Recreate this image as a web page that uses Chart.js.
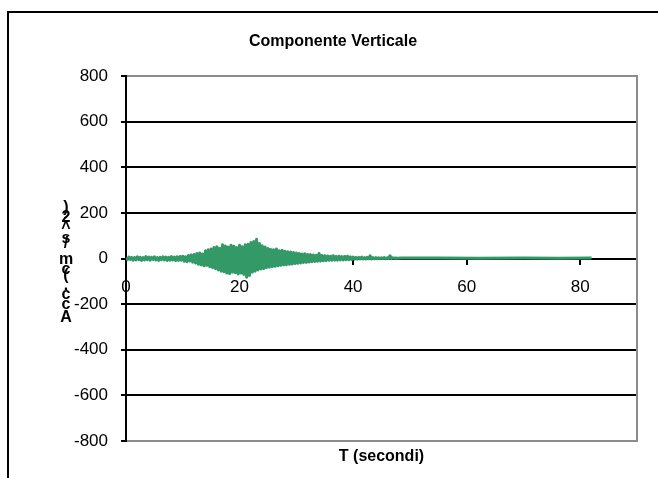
<!DOCTYPE html>
<html>
<head>
<meta charset="utf-8">
<script src="https://cdn.jsdelivr.net/npm/chart.js@4.4.1/dist/chart.umd.min.js"></script>
<style>
  html, body { margin: 0; padding: 0; background: #fff; }
  #grafico { display: block; }
</style>
</head>
<body>
<canvas id="grafico" width="658" height="478"></canvas>
<script>
const titolo = 'Componente Verticale';
const titoloX = 'T (secondi)';
const titoloY = 'Acc. (cm/s^2)';

// accelerogramma campionato ogni 0.25 s da 0 a 48 s (cm/s^2)
const passo = 0.25;
const accel = [
  3, -5, 6, -4,   5, -7, 4, -6,   7, -5, 5, -8,   4, -6, 8, -5,   6, -7, 5, -4,
  7, -6, 4, -8,   5, -5, 7, -6,   6, -8, 5, -7,   8, -6, 6, -9,   7, -8, 9, -7,
  10, -12, 8, -14,   13, -11, 15, -16,   18, -20, 22, -25,   24, -28, 20, -32,   34, -30, 38, -36,
  42, -40, 48, -44,   52, -50, 45, -56,   60, -58, 55, -64,   50, -66, 58, -60,   54, -62, 48, -68,
  58, -64, 52, -70,   60, -82, 62, -74,   70, -60, 74, -56,   84, -50, 66, -46,   56, -44, 50, -40,
  44, -38, 40, -36,   38, -34, 42, -32,   34, -30, 36, -28,   32, -27, 30, -25,   28, -24, 26, -22,
  24, -21, 22, -20,   20, -18, 21, -17,   18, -15, 17, -14,   15, -13, 14, -12,   22, -11, 13, -10,
  12, -9, 11, -8,   10, -8, 12, -7,   9, -7, 10, -6,   8, -6, 9, -5,   10, -5, 7, -4,
  6, -3, 5, -3,   5, -2, 6, -2,   4, -2, 5, -1,   12, -2, 4, -1,   4, -1, 3, -1,
  3, 0, 4, -1,   3, 0, 12, 0,   3, 1, 2, 1
];
// coda quasi piatta fino a fine registrazione
const codaTempo = [48.5, 55, 62, 70, 76, 82];
const codaAccel = [2, 2, 1, 2, 1, 2];

const tickX = [0, 20, 40, 60, 80];
const tickY = [-800, -600, -400, -200, 0, 200, 400, 600, 800];

const FONT = "'Liberation Sans', Arial, sans-serif";
const VERDE = '#339966';

const punti = accel.map((a, i) => ({ x: i * passo, y: a }))
  .concat(codaTempo.map((t, i) => ({ x: t, y: codaAccel[i] })));

const decorazioni = {
  id: 'decorazioni',
  beforeDraw(chart) {
    const ctx = chart.ctx;
    ctx.save();
    ctx.fillStyle = '#fff';
    ctx.fillRect(0, 0, chart.width, chart.height);
    // cornice esterna
    ctx.strokeStyle = '#000';
    ctx.lineWidth = 2;
    ctx.beginPath();
    ctx.moveTo(8, chart.height + 2);
    ctx.lineTo(8, 12);
    ctx.lineTo(chart.width + 2, 12);
    ctx.stroke();
    ctx.restore();
  },
  afterDraw(chart) {
    const ctx = chart.ctx;
    const area = chart.chartArea;
    ctx.save();
    // bordo destro dell'area del grafico
    ctx.strokeStyle = '#8c8c8c';
    ctx.lineWidth = 2;
    ctx.beginPath();
    ctx.moveTo(area.right, area.top - 1);
    ctx.lineTo(area.right, area.bottom + 1);
    ctx.stroke();

    ctx.fillStyle = '#000';
    ctx.font = 'bold 16px ' + FONT;
    ctx.textAlign = 'center';
    ctx.textBaseline = 'middle';
    ctx.fillText(titolo, 333, 42);
    ctx.fillText(titoloX, (area.left + area.right) / 2, 457);

    // titolo asse Y: caratteri dritti impilati dal basso verso l'alto
    let y = 326;
    ctx.textBaseline = 'bottom';
    for (const ch of titoloY) {
      ctx.fillText(ch, 66, y);
      y -= ctx.measureText(ch).width * 1.12;
    }
    ctx.restore();
  }
};

new Chart(document.getElementById('grafico'), {
  type: 'line',
  data: {
    datasets: [{
      data: punti,
      borderColor: VERDE,
      backgroundColor: VERDE,
      borderWidth: 3,
      borderJoinStyle: 'round',
      pointRadius: 0,
      tension: 0,
      fill: 'origin'
    }]
  },
  options: {
    responsive: false,
    animation: false,
    events: [],
    layout: { padding: { left: 16, right: 21, top: 76, bottom: 37 } },
    plugins: {
      legend: { display: false },
      title: { display: false },
      tooltip: { enabled: false }
    },
    scales: {
      x: {
        type: 'linear',
        min: 0,
        max: 90,
        position: { y: 0 },
        afterBuildTicks: s => { s.ticks = tickX.map(v => ({ value: v })); },
        afterFit: s => { s.height = 0; },
        border: { color: '#000', width: 2 },
        grid: { drawOnChartArea: false, drawTicks: true, tickLength: 5, color: '#000', lineWidth: 2 },
        ticks: { color: '#000', font: { family: FONT, size: 17 }, padding: 14, maxRotation: 0, autoSkip: false }
      },
      y: {
        type: 'linear',
        min: -800,
        max: 800,
        afterBuildTicks: s => { s.ticks = tickY.map(v => ({ value: v })); },
        afterFit: s => { s.width = 110; },
        border: { color: '#000', width: 2 },
        grid: {
          color: c => (c.tick && Math.abs(c.tick.value) === 800) ? '#8c8c8c' : '#000',
          lineWidth: 2,
          tickColor: '#000',
          tickWidth: 2,
          tickLength: 5
        },
        ticks: { color: '#000', font: { family: FONT, size: 17 }, padding: 13 }
      }
    }
  },
  plugins: [decorazioni]
});
</script>
</body>
</html>
